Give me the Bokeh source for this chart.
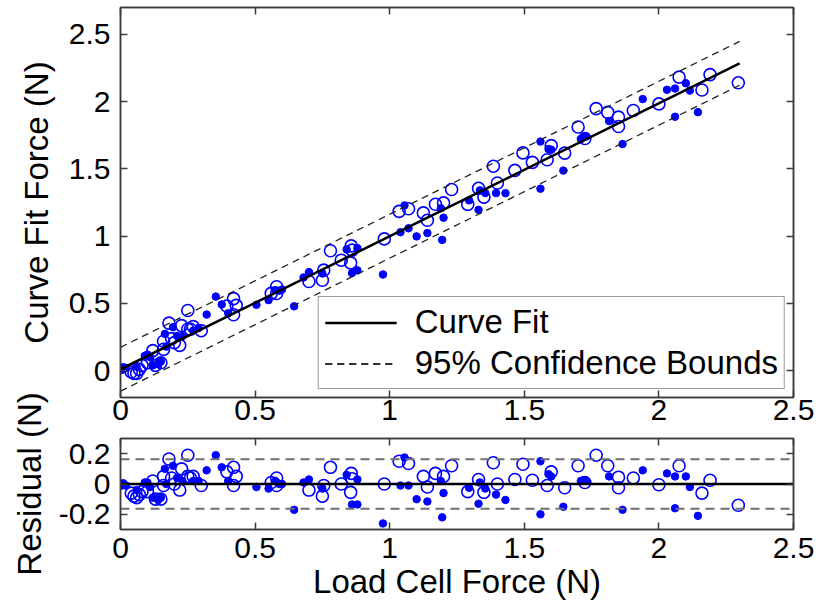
import numpy as np
from bokeh.plotting import figure
from bokeh.layouts import column
from bokeh.models import (LinearAxis, FixedTicker, CustomJSTickFormatter, Range1d,
                          Legend, LegendItem)
from bokeh.embed import file_html
from bokeh.resources import INLINE

FONT = "Liberation Sans"

# ---- data ----
# open circles: load cell force and residual
load_open = [0.04, 0.05, 0.06, 0.07, 0.08, 0.10, 0.12, 0.13, 0.15, 0.16, 0.16, 0.18, 0.19, 0.20,
             0.22, 0.227, 0.25, 0.25, 0.26, 0.27, 0.30, 0.395, 0.42, 0.43, 0.42,
             0.56, 0.58, 0.58, 0.70, 0.755, 0.75, 0.78, 0.82, 0.857, 0.86, 0.855, 0.98,
             1.035, 1.07, 1.125, 1.17, 1.14, 1.20, 1.23, 1.29, 1.33, 1.35, 1.385, 1.40, 1.465,
             1.495, 1.53, 1.585, 1.60, 1.65, 1.70, 1.725, 1.767, 1.81, 1.85, 1.85, 1.905,
             2.00, 2.075, 2.16, 2.19, 2.295]
resid_open = [-0.06, -0.08, -0.09, -0.07, -0.05, -0.05, 0.02, -0.10, -0.10, -0.01, 0.05, 0.165, 0.04, 0.00,
              -0.04, 0.10, 0.19, 0.05, 0.04, 0.05, -0.01, 0.08, 0.11, 0.05, -0.01,
              0.01, 0.04, -0.01, -0.04, -0.01, -0.08, 0.11, 0.00, 0.07, 0.035, -0.055, 0.00,
              0.15, 0.135, 0.05, 0.07, -0.02, 0.05, 0.12, -0.05, 0.03, -0.055, 0.14, 0.00, 0.03,
              0.13, 0.025, -0.01, 0.08, -0.025, 0.12, 0.01, 0.19, 0.12, 0.045, -0.025, 0.04,
              -0.005, 0.12, -0.06, 0.025, -0.14]

# filled dots: load cell force and residual
load_filled = [0.0, 0.005, 0.01, 0.015, 0.02, 0.06, 0.09, 0.10, 0.11, 0.12, 0.14, 0.15, 0.165, 0.17,
               0.195, 0.21, 0.23, 0.27, 0.29, 0.32, 0.354, 0.376, 0.40,
               0.505, 0.55, 0.575, 0.59, 0.60, 0.645, 0.68, 0.70, 0.75, 0.84, 0.88, 0.86, 0.88, 0.975,
               1.055, 1.04, 1.07, 1.10, 1.14, 1.19, 1.20, 1.195, 1.295, 1.335, 1.355, 1.33, 1.395, 1.43,
               1.56, 1.56, 1.59, 1.60, 1.645, 1.71, 1.72, 1.73, 1.815, 1.865, 1.94,
               2.03, 2.06, 2.10, 2.115, 2.06, 2.145]
resid_filled = [0.0, -0.01, 0.005, -0.005, -0.01, -0.04, 0.01, 0.01, -0.02, -0.09, -0.10, -0.09, 0.10, 0.0,
                0.12, 0.04, 0.02, 0.02, 0.02, 0.09, 0.19, 0.11, 0.02,
                -0.02, -0.03, 0.02, 0.0, 0.0, -0.17, 0.01, 0.03, -0.03, 0.06, 0.03, -0.135, -0.135, -0.26,
                0.175, -0.01, -0.01, -0.10, -0.115, 0.02, -0.06, -0.22, -0.025, 0.01, -0.03, -0.13, -0.07, -0.105,
                0.15, -0.20, 0.065, 0.05, -0.15, 0.02, 0.025, 0.02, 0.05, -0.17, 0.09,
                0.07, 0.05, 0.05, -0.02, -0.16, -0.21]

# curve fit line and confidence half-width
fit_x = [0.0, 2.3]
fit_y = [0.01, 2.285]
bound = 0.163

x_ticks = [0, 0.5, 1, 1.5, 2, 2.5]
y_ticks_top = [0, 0.5, 1, 1.5, 2, 2.5]
y_ticks_bot = [-0.2, 0, 0.2]

# curve-fit force = fit(load) + residual
cf_open = list(np.interp(load_open, fit_x, fit_y) + np.array(resid_open))
cf_filled = list(np.interp(load_filled, fit_x, fit_y) + np.array(resid_filled))
up_y = [v + bound for v in fit_y]
lo_y = [v - bound for v in fit_y]

BLUE = "#0000ff"
FRAME = "#3a3a3a"


def style(p, xt, yt, xlabel=None, ylabel=None):
    p.xgrid.visible = False
    p.ygrid.visible = False
    p.outline_line_color = FRAME
    p.outline_line_width = 1.5
    p.background_fill_color = "white"
    p.border_fill_color = "white"
    xb = p.below[0]
    yl = p.left[0]
    right = LinearAxis()
    above = LinearAxis()
    p.add_layout(right, "right")
    p.add_layout(above, "above")
    for ax, ticks in ((xb, xt), (yl, yt), (right, yt), (above, xt)):
        ax.ticker = FixedTicker(ticks=ticks)
        ax.minor_tick_line_color = None
        ax.major_tick_in = 7
        ax.major_tick_out = 0
        ax.major_tick_line_color = FRAME
        ax.major_tick_line_width = 1.5
        ax.axis_line_color = FRAME
        ax.axis_line_width = 1.5
        ax.major_label_text_font = FONT
        ax.major_label_text_color = "black"
    for ax in (xb, yl):
        ax.formatter = CustomJSTickFormatter(code="return tick.toString();")
        ax.major_label_text_font_size = "30px"
    for ax in (right, above):
        ax.formatter = CustomJSTickFormatter(code="return '';")
        ax.major_label_text_font_size = "1px"
        ax.major_label_standoff = 0
    yl.major_label_standoff = 10
    for ax, lab in ((xb, xlabel), (yl, ylabel)):
        if lab:
            ax.axis_label = lab
            ax.axis_label_text_font = FONT
            ax.axis_label_text_font_size = "33px"
            ax.axis_label_text_font_style = "normal"
            ax.axis_label_text_color = "black"
    return xb, yl


# ---- top plot ----
top = figure(frame_width=673, frame_height=390, min_border_left=120, min_border_right=25,
             min_border_top=7, min_border_bottom=35,
             x_range=Range1d(0, 2.5), y_range=Range1d(-0.2, 2.7),
             output_backend="svg", toolbar_location=None)
txb, tyl = style(top, x_ticks, y_ticks_top, ylabel="Curve Fit Force (N)")
txb.major_label_standoff = 2
tyl.axis_label_standoff = 11

top.scatter(load_open, cf_open, marker="circle", size=12, fill_color=None,
            line_color=BLUE, line_width=1.6)
top.scatter(load_filled, cf_filled, marker="circle", size=7.5, fill_color=BLUE,
            line_color=BLUE, line_width=1)
fit_r = top.line(fit_x, fit_y, line_color="black", line_width=2.5)
up_r = top.line(fit_x, up_y, line_color="#222222", line_width=1.3, line_dash="7 5")
lo_r = top.line(fit_x, lo_y, line_color="#222222", line_width=1.3, line_dash="7 5")

legend = Legend(items=[LegendItem(label="Curve Fit", renderers=[fit_r]),
                       LegendItem(label="95% Confidence Bounds", renderers=[up_r, lo_r])],
                location="bottom_right")
legend.label_text_font = FONT
legend.label_text_font_size = "33px"
legend.label_text_color = "black"
legend.glyph_width = 72
legend.glyph_height = 31
legend.label_height = 31
legend.spacing = 3
legend.padding = 6
legend.margin = 8
legend.label_standoff = 18
legend.border_line_color = FRAME
legend.border_line_width = 1.5
legend.background_fill_alpha = 1
top.add_layout(legend)

# ---- residual plot ----
# its canvas is pulled up over the (empty) strip left of the top plot's x labels,
# so that its long rotated y label is not cut
OVER = 60
bot = figure(frame_width=673, frame_height=91, min_border_left=120, min_border_right=25,
             min_border_top=6 + OVER, min_border_bottom=40,
             x_range=Range1d(0, 2.5), y_range=Range1d(-0.3, 0.3),
             output_backend="svg", toolbar_location=None)
style(bot, x_ticks, y_ticks_bot, xlabel="Load Cell Force (N)", ylabel="Residual (N)")
bot.border_fill_alpha = 0
bot.margin = (-OVER, 0, 0, 0)
bxb, byl = bot.below[0], bot.left[0]
bxb.major_label_standoff = 8
bxb.axis_label_standoff = 2
byl.axis_label_standoff = 8

bot.scatter(load_open, resid_open, marker="circle", size=12, fill_color=None,
            line_color=BLUE, line_width=1.6)
bot.scatter(load_filled, resid_filled, marker="circle", size=7.5, fill_color=BLUE,
            line_color=BLUE, line_width=1)
bot.line([0, 2.5], [0, 0], line_color="black", line_width=2.5)
bot.line([0, 2.5], [bound, bound], line_color="#707070", line_width=2, line_dash="9 6")
bot.line([0, 2.5], [-bound, -bound], line_color="#707070", line_width=2, line_dash="9 6")

layout = column(top, bot, spacing=0)
open("out.html", "w").write(file_html(layout, INLINE))
